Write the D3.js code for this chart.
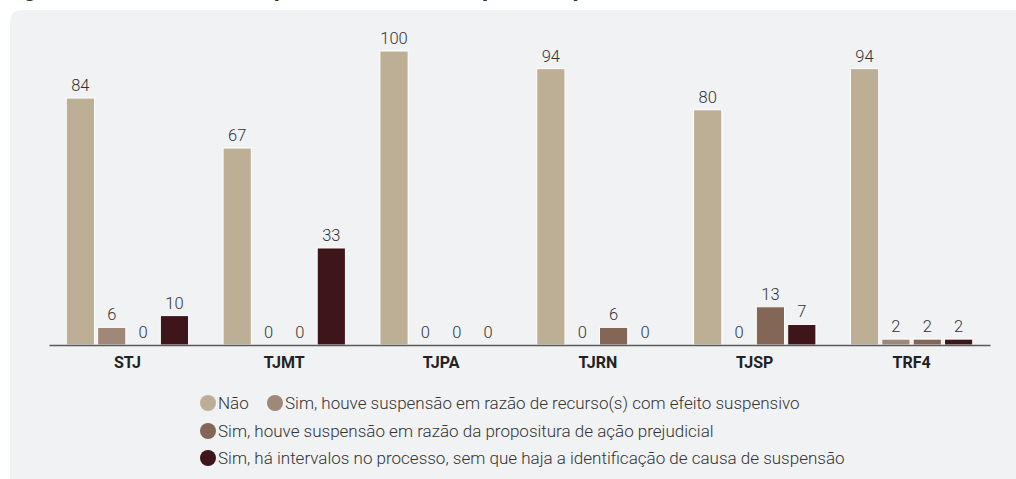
<!DOCTYPE html>
<html>
<head>
<meta charset="utf-8">
<script src="https://cdn.jsdelivr.net/npm/d3@7"></script>
<style>
  body { margin: 0; background: #fff; }
  svg { display: block; font-family: Roboto, "Noto Sans", sans-serif; }
</style>
</head>
<body>
<div id="viz"></div>
<script>
"use strict";

// tribunais
let courts = ['STJ', 'TJMT', 'TJPA', 'TJRN', 'TJSP', 'TRF4'];

// series (percent)
let seriesNames = [
    'Não',
    'Sim, houve suspensão em razão de recurso(s) com efeito suspensivo',
    'Sim, houve suspensão em razão da propositura de ação prejudicial',
    'Sim, há intervalos no processo, sem que haja a identificação de causa de suspensão'
];
let nao        = [84, 67, 100, 94, 80, 94];
let recurso    = [6, 0, 0, 0, 0, 2];
let prejudicial = [0, 0, 0, 6, 13, 2];
let intervalos = [10, 33, 0, 0, 7, 2];

let colors = ['#bdaf95', '#a08878', '#836656', '#3e151a'];

function initChart() {
    let width = 1016;
    let height = 479;

    let values = [nao, recurso, prejudicial, intervalos];
    let data = courts.map((c, i) => ({
        court: c,
        vals: values.map((s, k) => ({ key: k, value: s[i] }))
    }));

    let svg = d3.select('#viz')
                .append('svg')
                .attr('width', width)
                .attr('height', height);

    // title, mostly cropped off the top (as in the source)
    svg.append('text')
       .attr('x', 4)
       .attr('y', -4)
       .attr('font-size', 24)
       .attr('font-weight', 700)
       .attr('fill', '#333')
       .text('Figura 9 – Percentual de processos com suspensão, por tribunal');

    // panel background with rounded top-left corner
    let px = 10, py = 10, r = 12;
    svg.append('path')
       .attr('d', `M${px},${height} L${px},${py + r} Q${px},${py} ${px + r},${py} L${width},${py} L${width},${height} Z`)
       .attr('fill', '#f1f2f4');

    let x0 = d3.scaleBand()
               .domain(courts)
               .range([49, 990])
               .paddingInner(0.22)
               .paddingOuter(0.11);

    let x1 = d3.scaleBand()
               .domain(d3.range(4))
               .range([0, x0.bandwidth()])
               .paddingInner(0.1);

    let y = d3.scaleLinear()
              .domain([0, 100])
              .range([345, 51]);

    let groups = svg.selectAll('g.court')
                    .data(data)
                    .enter()
                    .append('g')
                    .attr('class', 'court')
                    .attr('transform', d => `translate(${x0(d.court)},0)`);

    groups.selectAll('rect')
          .data(d => d.vals)
          .enter()
          .append('rect')
          .attr('x', d => x1(d.key))
          .attr('y', d => y(d.value))
          .attr('width', x1.bandwidth())
          .attr('height', d => y(0) - y(d.value))
          .attr('fill', d => colors[d.key])
          .attr('stroke', d => d.value > 0 ? '#fff' : 'none')
          .attr('stroke-width', 1);

    groups.selectAll('text')
          .data(d => d.vals)
          .enter()
          .append('text')
          .attr('x', d => x1(d.key) + x1.bandwidth() / 2)
          .attr('y', d => y(d.value) - 7)
          .attr('text-anchor', 'middle')
          .attr('font-size', 16.5)
          .attr('font-weight', 300)
          .attr('fill', '#333')
          .text(d => d.value);

    // x axis
    let xAxis = svg.append('g')
                   .attr('transform', `translate(0,${y(0)})`)
                   .call(d3.axisBottom(x0).tickSize(0).tickPadding(12));
    xAxis.select('.domain')
         .attr('stroke', '#5a5a5a')
         .attr('stroke-width', 1.5);
    xAxis.selectAll('text')
         .attr('font-family', 'Roboto, sans-serif')
         .attr('font-size', 16)
         .attr('font-weight', 700)
         .attr('fill', '#222');

    // legend
    let legendItems = [
        { key: 0, x: 208, y: 403 },
        { key: 1, x: 275, y: 403 },
        { key: 2, x: 208, y: 431 },
        { key: 3, x: 208, y: 458 }
    ];
    let legend = svg.selectAll('g.legend')
                    .data(legendItems)
                    .enter()
                    .append('g')
                    .attr('class', 'legend')
                    .attr('transform', d => `translate(${d.x},${d.y})`);
    legend.append('circle')
          .attr('r', 8)
          .attr('fill', d => colors[d.key]);
    legend.append('text')
          .attr('x', 10)
          .attr('y', 6)
          .attr('font-size', 17)
          .attr('font-weight', 300)
          .attr('fill', '#333')
          .text(d => seriesNames[d.key]);
}

initChart();
</script>
</body>
</html>
